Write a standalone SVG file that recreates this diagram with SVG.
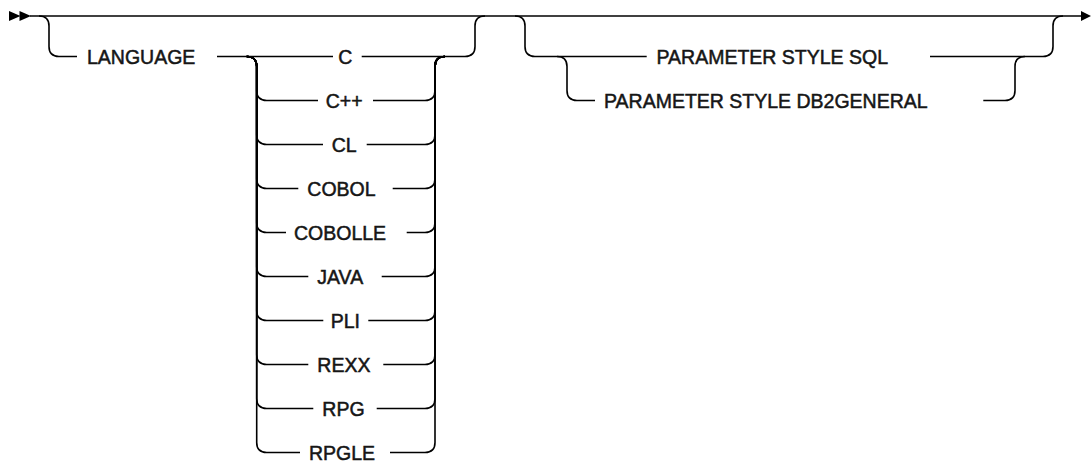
<svg xmlns="http://www.w3.org/2000/svg" width="1091" height="464" viewBox="0 0 1091 464">
<style>
.c{fill:none;stroke:#000;stroke-width:1.6}
.h{fill:#000;stroke:none}
text{font-family:"Liberation Sans",Arial,sans-serif;font-size:19.5px;fill:#161616;stroke:#161616;stroke-width:0.5}
</style>
<rect width="1091" height="464" fill="#fff"/>
<g id="connectors">
<polygon class="h" points="9,11 20.5,16 9,21"/>
<polygon class="h" points="19.5,11 31,16 19.5,21"/>
<path class="c" d="M30,16 H1082"/>
<polygon class="h" points="1081,11 1091,16 1081,21"/>
<path class="c" d="M39,16 Q49,16 49,26 V46.5 Q49,56.5 59,56.5 H77"/>
<path class="c" d="M217,56.5 H333"/>
<path class="c" d="M361.7,56.5 H465 Q475,56.5 475,46.5 V26 Q475,16 485,16"/>
<path class="c" d="M246.7,56.5 Q256.7,56.5 256.7,66.5 V90.5 Q256.7,100.5 266.7,100.5 H318 M373,100.5 H425 Q435,100.5 435,90.5 V66.5 Q435,56.5 445,56.5"/>
<path class="c" d="M246.7,56.5 Q256.7,56.5 256.7,66.5 V134.5 Q256.7,144.5 266.7,144.5 H323 M366.7,144.5 H425 Q435,144.5 435,134.5 V66.5 Q435,56.5 445,56.5"/>
<path class="c" d="M246.7,56.5 Q256.7,56.5 256.7,66.5 V178.5 Q256.7,188.5 266.7,188.5 H298.3 M392.7,188.5 H425 Q435,188.5 435,178.5 V66.5 Q435,56.5 445,56.5"/>
<path class="c" d="M246.7,56.5 Q256.7,56.5 256.7,66.5 V222.5 Q256.7,232.5 266.7,232.5 H286 M406.7,232.5 H425 Q435,232.5 435,222.5 V66.5 Q435,56.5 445,56.5"/>
<path class="c" d="M246.7,56.5 Q256.7,56.5 256.7,66.5 V266.5 Q256.7,276.5 266.7,276.5 H308.3 M381.7,276.5 H425 Q435,276.5 435,266.5 V66.5 Q435,56.5 445,56.5"/>
<path class="c" d="M246.7,56.5 Q256.7,56.5 256.7,66.5 V310.5 Q256.7,320.5 266.7,320.5 H323.3 M368.3,320.5 H425 Q435,320.5 435,310.5 V66.5 Q435,56.5 445,56.5"/>
<path class="c" d="M246.7,56.5 Q256.7,56.5 256.7,66.5 V354.5 Q256.7,364.5 266.7,364.5 H308.3 M383.3,364.5 H425 Q435,364.5 435,354.5 V66.5 Q435,56.5 445,56.5"/>
<path class="c" d="M246.7,56.5 Q256.7,56.5 256.7,66.5 V398.5 Q256.7,408.5 266.7,408.5 H313.3 M376.7,408.5 H425 Q435,408.5 435,398.5 V66.5 Q435,56.5 445,56.5"/>
<path class="c" d="M246.7,56.5 Q256.7,56.5 256.7,66.5 V442.5 Q256.7,452.5 266.7,452.5 H300 M390,452.5 H425 Q435,452.5 435,442.5 V66.5 Q435,56.5 445,56.5"/>
<path class="c" d="M515,16 Q525,16 525,26 V46.5 Q525,56.5 535,56.5 H646.7"/>
<path class="c" d="M930,56.5 H1043 Q1053,56.5 1053,46.5 V26 Q1053,16 1063,16"/>
<path class="c" d="M557,56.5 Q567,56.5 567,66.5 V90.5 Q567,100.5 577,100.5 H595 M983.3,100.5 H1005 Q1015,100.5 1015,90.5 V66.5 Q1015,56.5 1025,56.5"/>
</g>
<g id="n-language"><text x="87" y="63.5">LANGUAGE</text></g>
<g id="n-c"><text x="338.3" y="63.5">C</text></g>
<g id="n-cpp"><text x="325.7" y="107.5">C++</text></g>
<g id="n-cl"><text x="331.7" y="151.5">CL</text></g>
<g id="n-cobol"><text x="307.3" y="195.5">COBOL</text></g>
<g id="n-cobolle"><text x="294" y="239.5">COBOLLE</text></g>
<g id="n-java"><text x="317.3" y="283.5">JAVA</text></g>
<g id="n-pli"><text x="330.7" y="327.5">PLI</text></g>
<g id="n-rexx"><text x="317.3" y="371.5">REXX</text></g>
<g id="n-rpg"><text x="322.3" y="415.5">RPG</text></g>
<g id="n-rpgle"><text x="309" y="459.5">RPGLE</text></g>
<g id="n-sql"><text x="656.5" y="63.5">PARAMETER STYLE SQL</text></g>
<g id="n-db2general"><text x="604" y="107.5">PARAMETER STYLE DB2GENERAL</text></g>
</svg>
